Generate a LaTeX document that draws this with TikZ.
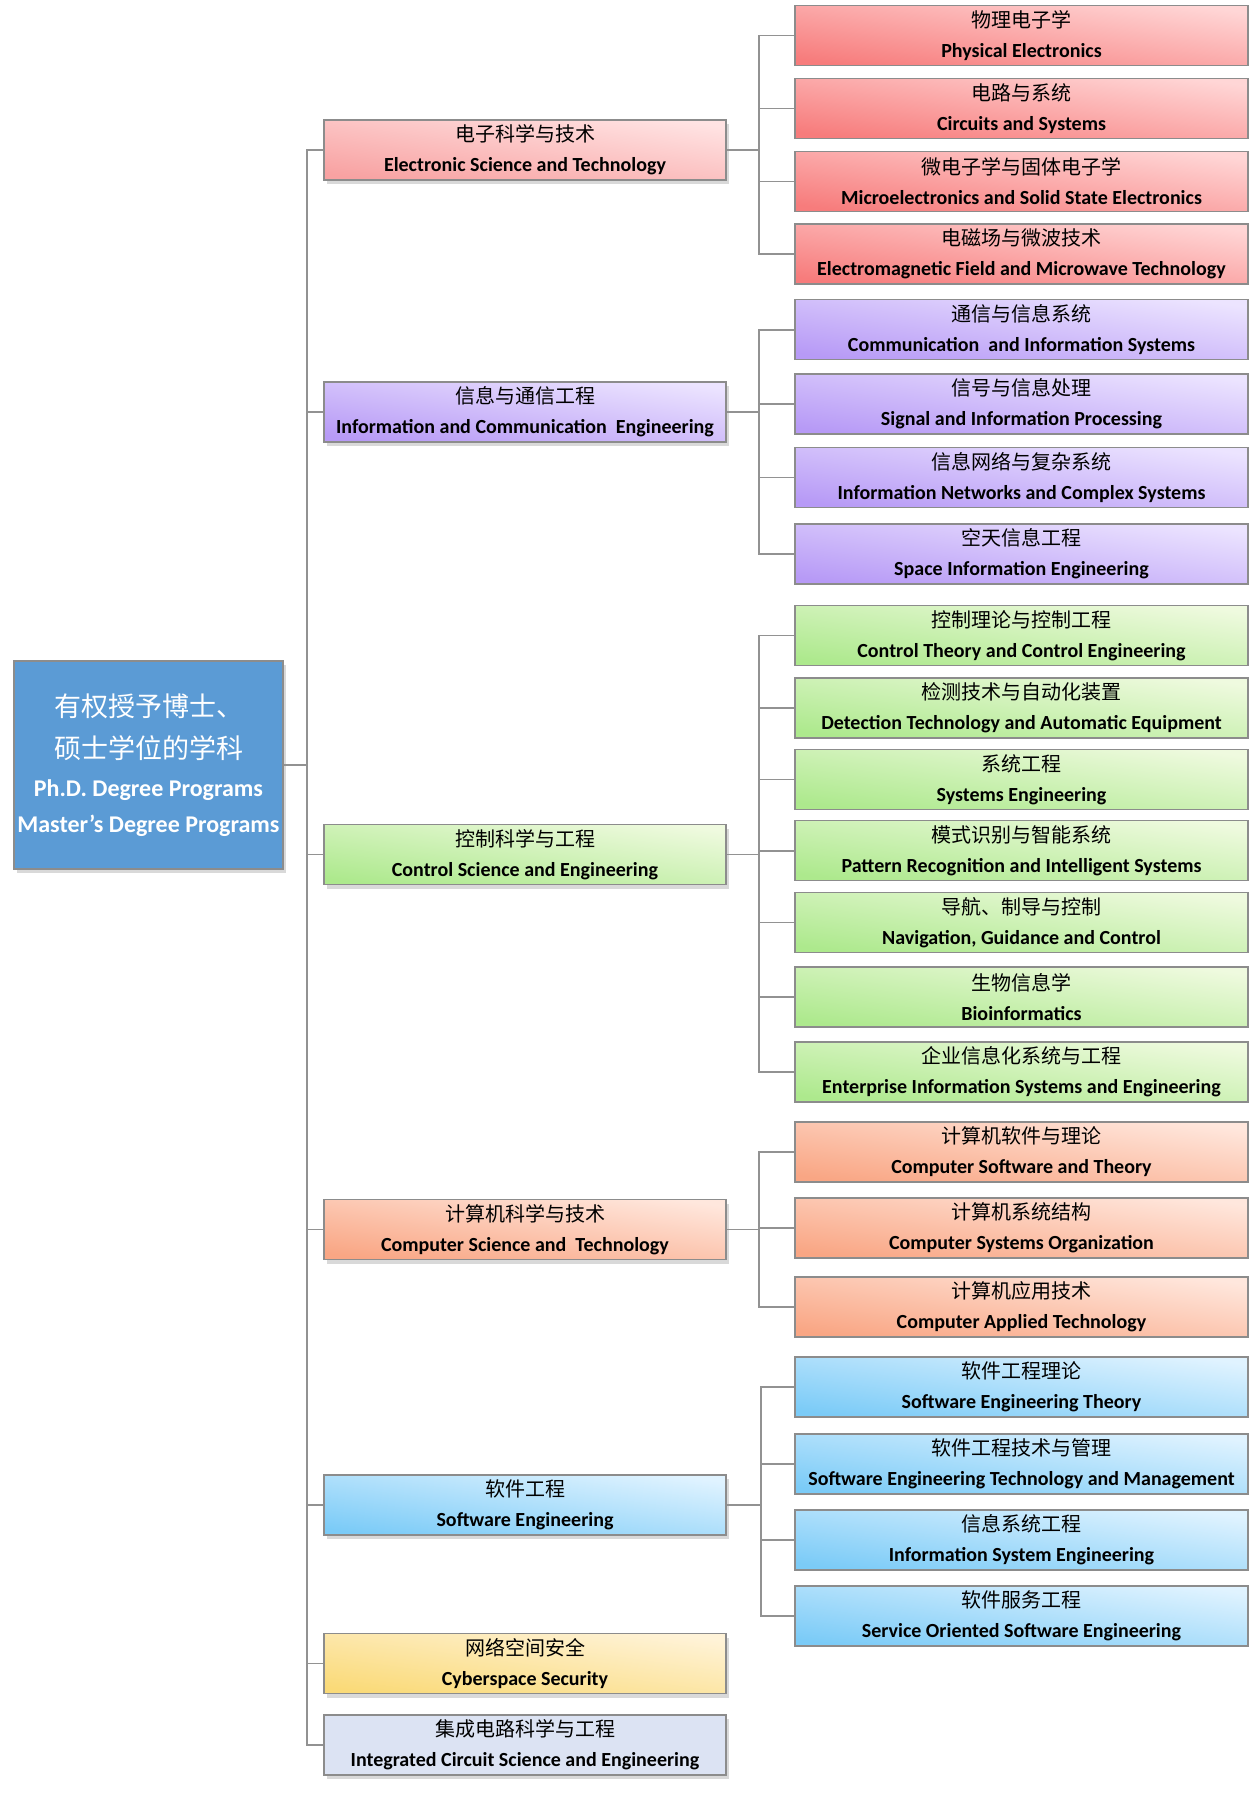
\documentclass[tikz,border=0pt]{standalone}
\usepackage{fontspec}
\setmainfont{Carlito}
\newfontfamily\cjk{Noto Sans CJK SC}
\usetikzlibrary{shadows}

\definecolor{boxgray}{HTML}{8C8C8C}
\definecolor{linegray}{HTML}{929292}
\definecolor{redT}{HTML}{FFD6D6}\definecolor{redB}{HTML}{F77C7C}
\definecolor{redMT}{HTML}{FFE3E3}\definecolor{redMB}{HTML}{F8A2A2}
\definecolor{purT}{HTML}{ECE4FF}\definecolor{purB}{HTML}{B79AF6}
\definecolor{grnT}{HTML}{EFFADF}\definecolor{grnB}{HTML}{ADE98D}
\definecolor{orgT}{HTML}{FFE7DD}\definecolor{orgB}{HTML}{F9A684}
\definecolor{bluT}{HTML}{E0F3FF}\definecolor{bluB}{HTML}{7BCBF7}
\definecolor{yelT}{HTML}{FFF3D8}\definecolor{yelB}{HTML}{FADA78}
\definecolor{icfill}{HTML}{DCE3F3}
\definecolor{rootfill}{HTML}{5B9BD5}

\newcommand{\twoline}[2]{{\cjk #1}\\{\bfseries #2}}

\tikzset{
  box/.style={draw=boxgray, line width=0.75pt, align=center, inner sep=0pt,
    font=\fontsize{10}{15}\selectfont, text=black},
  subbox/.style 2 args={box, minimum width=226.5pt, minimum height=30pt,
    top color=#1, bottom color=#2, shading angle=-8},
  midbox/.style 2 args={box, minimum width=201pt, minimum height=30pt,
    top color=#1, bottom color=#2, shading angle=-8,
    drop shadow={shadow xshift=1.5pt, shadow yshift=-2pt, opacity=0.3}},
  conn/.style={draw=linegray, line width=0.8pt},
}

\begin{document}
\begin{tikzpicture}[x=0.5pt, y=-0.5pt]
  \useasboundingbox (0,0) rectangle (1249,1795);

  % Define nodes
  \node[box, fill=rootfill, text=white, minimum width=134.5pt, minimum height=104pt,
    drop shadow={shadow xshift=1.5pt, shadow yshift=-2pt, opacity=0.3},
    font=\fontsize{12}{18}\selectfont] (ROOT) at (148.5,765)
    {{\cjk\fontsize{13.5}{20}\selectfont 有权授予博士、}\\[3pt]
     {\cjk\fontsize{13.5}{20}\selectfont 硕士学位的学科}\\[1pt]
     \bfseries Ph.D. Degree Programs\\
     \bfseries Master’s Degree Programs};

  \node[midbox={redMT}{redMB}] (EST) at (525,150) {\twoline{电子科学与技术}{Electronic Science and Technology}};
  \node[midbox={purT}{purB}] (ICE) at (525,412) {\twoline{信息与通信工程}{Information and Communication~ Engineering}};
  \node[midbox={grnT}{grnB}] (CSE) at (525,854.5) {\twoline{控制科学与工程}{Control Science and Engineering}};
  \node[midbox={orgT}{orgB}] (CST) at (525,1229.5) {\twoline{计算机科学与技术}{Computer Science and~ Technology}};
  \node[midbox={bluT}{bluB}] (SWE) at (525,1505) {\twoline{软件工程}{Software Engineering}};
  \node[midbox={yelT}{yelB}] (CYS) at (525,1663.5) {\twoline{网络空间安全}{Cyberspace Security}};
  \node[midbox={icfill}{icfill}] (ICSE) at (525,1745) {\twoline{集成电路科学与工程}{Integrated Circuit Science and Engineering}};

  \node[subbox={redT}{redB}] (PE) at (1021.5,35.4) {\twoline{物理电子学}{Physical Electronics}};
  \node[subbox={redT}{redB}] (CAS) at (1021.5,108.5) {\twoline{电路与系统}{Circuits and Systems}};
  \node[subbox={redT}{redB}] (MSSE) at (1021.5,181.5) {\twoline{微电子学与固体电子学}{Microelectronics and Solid State Electronics}};
  \node[subbox={redT}{redB}] (EMFM) at (1021.5,253.8) {\twoline{电磁场与微波技术}{Electromagnetic Field and Microwave Technology}};

  \node[subbox={purT}{purB}] (CIS) at (1021.5,329.7) {\twoline{通信与信息系统}{Communication~ and Information Systems}};
  \node[subbox={purT}{purB}] (SIP) at (1021.5,404) {\twoline{信号与信息处理}{Signal and Information Processing}};
  \node[subbox={purT}{purB}] (INCS) at (1021.5,477.3) {\twoline{信息网络与复杂系统}{Information Networks and Complex Systems}};
  \node[subbox={purT}{purB}] (SIE) at (1021.5,554) {\twoline{空天信息工程}{Space Information Engineering}};

  \node[subbox={grnT}{grnB}] (CTCE) at (1021.5,635.4) {\twoline{控制理论与控制工程}{Control Theory and Control Engineering}};
  \node[subbox={grnT}{grnB}] (DTAE) at (1021.5,708) {\twoline{检测技术与自动化装置}{Detection Technology and Automatic Equipment}};
  \node[subbox={grnT}{grnB}] (SYE) at (1021.5,779.3) {\twoline{系统工程}{Systems Engineering}};
  \node[subbox={grnT}{grnB}] (PRIS) at (1021.5,850.7) {\twoline{模式识别与智能系统}{Pattern Recognition and Intelligent Systems}};
  \node[subbox={grnT}{grnB}] (NGC) at (1021.5,922.4) {\twoline{导航、制导与控制}{Navigation, Guidance and Control}};
  \node[subbox={grnT}{grnB}] (BIO) at (1021.5,996.8) {\twoline{生物信息学}{Bioinformatics}};
  \node[subbox={grnT}{grnB}] (EISE) at (1021.5,1071.9) {\twoline{企业信息化系统与工程}{Enterprise Information Systems and Engineering}};

  \node[subbox={orgT}{orgB}] (CSWT) at (1021.5,1152) {\twoline{计算机软件与理论}{Computer Software and Theory}};
  \node[subbox={orgT}{orgB}] (CSO) at (1021.5,1228) {\twoline{计算机系统结构}{Computer Systems Organization}};
  \node[subbox={orgT}{orgB}] (CAT) at (1021.5,1307) {\twoline{计算机应用技术}{Computer Applied Technology}};

  \node[subbox={bluT}{bluB}] (SWET) at (1021.5,1387) {\twoline{软件工程理论}{Software Engineering Theory}};
  \node[subbox={bluT}{bluB}] (SETM) at (1021.5,1464) {\twoline{软件工程技术与管理}{Software Engineering Technology and Management}};
  \node[subbox={bluT}{bluB}] (ISE) at (1021.5,1540) {\twoline{信息系统工程}{Information System Engineering}};
  \node[subbox={bluT}{bluB}] (SOSE) at (1021.5,1616) {\twoline{软件服务工程}{Service Oriented Software Engineering}};

  % Define edges
  \foreach \m in {EST,ICE,CSE,CST,SWE,CYS,ICSE}
    \draw[conn] (ROOT.east) -- ++(23,0) |- (\m.west);
  \foreach \s in {PE,CAS,MSSE,EMFM}
    \draw[conn] (EST.east) -- ++(32,0) |- (\s.west);
  \foreach \s in {CIS,SIP,INCS,SIE}
    \draw[conn] (ICE.east) -- ++(32,0) |- (\s.west);
  \foreach \s in {CTCE,DTAE,SYE,PRIS,NGC,BIO,EISE}
    \draw[conn] (CSE.east) -- ++(32,0) |- (\s.west);
  \foreach \s in {CSWT,CSO,CAT}
    \draw[conn] (CST.east) -- ++(32,0) |- (\s.west);
  \foreach \s in {SWET,SETM,ISE,SOSE}
    \draw[conn] (SWE.east) -- ++(34,0) |- (\s.west);
\end{tikzpicture}
\end{document}
